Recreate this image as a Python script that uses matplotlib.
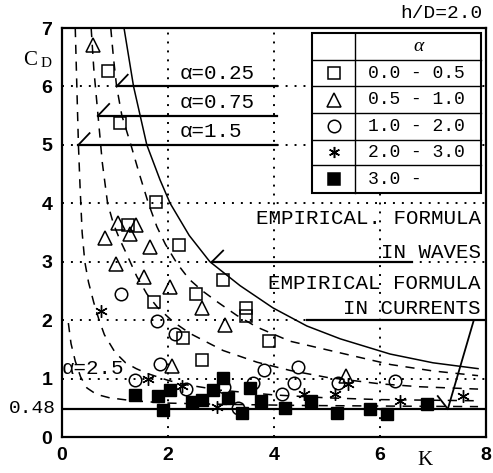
import matplotlib
matplotlib.use('Agg')
import matplotlib.pyplot as plt
from matplotlib.patches import Rectangle

MONO = 'Liberation Mono'

# empirical formula in waves (solid curve)
waves_K = [1.17, 1.35, 1.6, 1.85, 2.04, 2.4, 2.79, 3.36, 3.98, 4.62, 5.25, 6.19, 7.0, 7.85]
waves_C = [7.0, 6.0, 5.0, 4.4, 4.0, 3.45, 3.0, 2.59, 2.21, 1.9, 1.68, 1.42, 1.27, 1.17]

# calculated curves for several alpha (dashed)
a025_K = [0.92, 0.97, 1.03, 1.13, 1.3, 1.46, 1.63, 1.79, 1.95, 2.17, 2.4, 2.65, 2.95, 3.3, 3.68, 4.3, 5.2, 6.2, 7.0, 7.85]
a025_C = [7.0, 6.5, 6.0, 5.5, 5.0, 4.5, 4.0, 3.6, 3.3, 2.97, 2.7, 2.5, 2.3, 2.08, 1.88, 1.64, 1.45, 1.24, 1.13, 1.05]

a075_K = [0.55, 0.6, 0.68, 0.76, 0.86, 0.97, 1.09, 1.22, 1.41, 1.6, 1.8, 2.1, 2.42, 3.04, 3.68, 4.3, 5.0, 6.0, 6.75, 7.85]
a075_C = [7.0, 6.3, 5.5, 4.7, 4.0, 3.65, 3.38, 3.13, 2.75, 2.45, 2.22, 1.97, 1.77, 1.48, 1.28, 1.14, 1.02, 0.91, 0.86, 0.82]

a15_K = [0.25, 0.28, 0.31, 0.34, 0.38, 0.43, 0.5, 0.6, 0.7, 0.8, 1.0, 1.2, 1.4, 1.6, 2.0, 2.3, 3.0, 4.0, 5.0, 6.0, 7.85]
a15_C = [7.0, 6.0, 5.0, 4.3, 3.5, 3.0, 2.65, 2.3, 2.0, 1.75, 1.45, 1.27, 1.17, 1.09, 0.97, 0.9, 0.8, 0.72, 0.67, 0.64, 0.62]

a25_K = [0.12, 0.17, 0.25, 0.35, 0.47, 0.65, 0.9, 1.34, 2.0, 3.0, 4.5, 6.0, 7.85]
a25_C = [1.95, 1.6, 1.3, 1.03, 0.84, 0.73, 0.67, 0.62, 0.58, 0.56, 0.54, 0.53, 0.52]

# measured CD, grouped by alpha range
sq_K = [0.87, 1.09, 1.77, 1.25, 2.21, 1.74, 2.53, 3.03, 2.28, 2.64, 3.47, 3.47, 3.91]
sq_C = [6.26, 5.37, 4.02, 3.62, 3.28, 2.31, 2.45, 2.68, 1.70, 1.32, 2.21, 2.07, 1.65]

tri_K = [0.59, 1.06, 1.40, 1.28, 0.81, 1.66, 1.02, 1.54, 2.04, 2.64, 3.08, 2.08, 5.36]
tri_C = [6.71, 3.67, 3.62, 3.48, 3.40, 3.25, 2.96, 2.73, 2.57, 2.20, 1.92, 1.22, 1.05]

cir_K = [1.11, 1.80, 2.14, 1.84, 1.38, 2.34, 3.05, 3.33, 3.82, 4.45, 4.37, 3.60, 4.16, 5.20, 6.28]
cir_C = [2.44, 1.99, 1.77, 1.25, 0.97, 0.82, 0.85, 0.50, 1.15, 1.20, 0.93, 0.93, 0.74, 0.93, 0.96]

ast_K = [0.74, 1.63, 2.26, 2.92, 4.56, 5.15, 5.40, 6.38, 7.57]
ast_C = [2.16, 0.99, 0.87, 0.52, 0.74, 0.74, 0.91, 0.62, 0.70]

blk_K = [1.38, 1.82, 2.04, 1.91, 2.46, 2.64, 2.85, 3.04, 3.13, 3.40, 3.55, 3.75, 4.20, 4.70, 5.19, 5.81, 6.13, 6.89]
blk_C = [0.72, 0.70, 0.81, 0.47, 0.60, 0.64, 0.81, 1.01, 0.67, 0.41, 0.84, 0.62, 0.50, 0.62, 0.41, 0.48, 0.39, 0.56]

alpha_ranges = ['0.0 - 0.5', '0.5 - 1.0', '1.0 - 2.0', '2.0 - 3.0', '3.0 -']

fig = plt.figure(figsize=(4.93, 4.73), dpi=100)
ax = fig.add_axes([62 / 493, 1 - 437 / 473, 424 / 493, 409 / 473])
ax.set_xlim(0, 8)
ax.set_ylim(0, 7)

dot = (0, (1, 3.6))
dash = (0, (6, 5))

ax.set_xticks([0, 2, 4, 6, 8])
ax.set_yticks(range(8))
ax.set_xticklabels(['0', '2', '4', '6', '8'], fontsize=14, fontweight='bold', family='Liberation Sans')
ax.set_yticklabels([str(i) for i in range(8)], fontsize=14, fontweight='bold', family='Liberation Sans')
ax.tick_params(length=0, pad=7)
ax.grid(True, color='black', linestyle=dot, linewidth=1.4, zorder=1)
ax.set_axisbelow(True)
for s in ax.spines.values():
    s.set_linewidth(1.6)

# curves
ax.plot(waves_K, waves_C, color='black', lw=1.1, zorder=3)
for kk, cc in [(a025_K, a025_C), (a075_K, a075_C), (a15_K, a15_C), (a25_K, a25_C)]:
    ax.plot(kk, cc, color='black', lw=1.1, linestyle=dash, zorder=3)

# CD = 0.48 level
ax.axhline(0.48, color='black', lw=1.6, zorder=3)
ax.text(-0.12, 0.48, '0.48', family=MONO, fontsize=14, ha='right', va='center')

# alpha labels with leaders
for y, x0, lab in [(6.0, 1.03, 'α=0.25'), (5.5, 0.68, 'α=0.75'), (5.0, 0.31, 'α=1.5')]:
    ax.plot([x0, 4.05], [y, y], color='black', lw=1.6, zorder=3)
    ax.plot([x0, x0 + 0.21], [y, y + 0.2], color='black', lw=1.3, zorder=3)
    ax.text(2.22, y + 0.06, lab, family=MONO, fontsize=15, ha='left', va='bottom')
ax.text(0.0, 1.17, 'α=2.5', family=MONO, fontsize=15, ha='left', va='center')

# formula labels with leaders
ax.plot([2.83, 6.6], [3.0, 3.0], color='black', lw=1.6, zorder=3)
ax.plot([2.83, 3.04], [3.0, 3.19], color='black', lw=1.3, zorder=3)
ax.text(7.9, 3.74, 'EMPIRICAL. FORMULA', family=MONO, fontsize=15, ha='right', va='center')
ax.text(7.9, 3.16, 'IN WAVES', family=MONO, fontsize=15, ha='right', va='center')
ax.plot([4.62, 8.0], [2.0, 2.0], color='black', lw=1.6, zorder=3)
ax.plot([7.77, 7.28], [2.0, 0.48], color='black', lw=1.3, zorder=3)
ax.plot([7.28, 7.09], [0.48, 0.7], color='black', lw=1.3, zorder=3)
ax.text(7.9, 2.62, 'EMPIRICAL FORMULA', family=MONO, fontsize=15, ha='right', va='center')
ax.text(7.9, 2.2, 'IN CURRENTS', family=MONO, fontsize=15, ha='right', va='center')

# data points
ax.plot(sq_K, sq_C, 's', ms=8.6, mfc='none', mec='black', mew=1.1, zorder=4)
ax.plot(tri_K, tri_C, '^', ms=10, mfc='none', mec='black', mew=1.1, zorder=4)
ax.plot(cir_K, cir_C, 'o', ms=9, mfc='none', mec='black', mew=1.1, zorder=4)
ax.plot(ast_K, ast_C, marker=(6, 2, 0), ls='none', ms=9, mec='black', mew=1.0, zorder=4)
ax.plot(blk_K, blk_C, 's', ms=8, mfc='black', mec='black', zorder=4)

# legend table
x0, x1, x2 = 4.72, 5.53, 7.91
rows = [6.91, 6.45, 6.0, 5.54, 5.09, 4.65, 4.17]
ax.add_patch(Rectangle((x0, rows[-1]), x2 - x0, rows[0] - rows[-1], facecolor='white',
                       edgecolor='black', lw=1.5, zorder=5))
ax.plot([x1, x1], [rows[0], rows[-1]], color='black', lw=1.0, zorder=6)
for y in rows[1:-1]:
    ax.plot([x0, x2], [y, y], color='black', lw=1.0, zorder=6)
ax.text((x1 + x2) / 2, (rows[0] + rows[1]) / 2, 'α', family='Liberation Serif', style='italic',
        fontsize=14, ha='center', va='center', zorder=7)
markers = [dict(marker='s', ms=8.6, mfc='none'), dict(marker='^', ms=10, mfc='none'),
           dict(marker='o', ms=9, mfc='none'), dict(marker=(6, 2, 0), ms=8),
           dict(marker='s', ms=8.5, mfc='black')]
xm = (x0 + x1) / 2
for i, (lab, mk) in enumerate(zip(alpha_ranges, markers)):
    yc = (rows[i + 1] + rows[i + 2]) / 2
    ax.plot([xm], [yc], ls='none', mec='black', mew=1.1, zorder=7, **mk)
    ax.text(5.77, yc, lab, family=MONO, fontsize=13, ha='left', va='center', zorder=7)

# axis names and case label
ax.text(-0.6, 6.45, 'C', family='Liberation Serif', fontsize=15, ha='center', va='center', clip_on=False)
ax.text(-0.3, 6.40, 'D', family='Liberation Serif', fontsize=11, ha='center', va='center', clip_on=False)
ax.text(6.85, -0.4, 'K', family='Liberation Serif', fontsize=15, ha='center', va='center', clip_on=False)
fig.text(482 / 493, 1 - 14 / 473, 'h/D=2.0', family=MONO, fontsize=14, ha='right', va='center')

fig.savefig('out.png', dpi=100)
